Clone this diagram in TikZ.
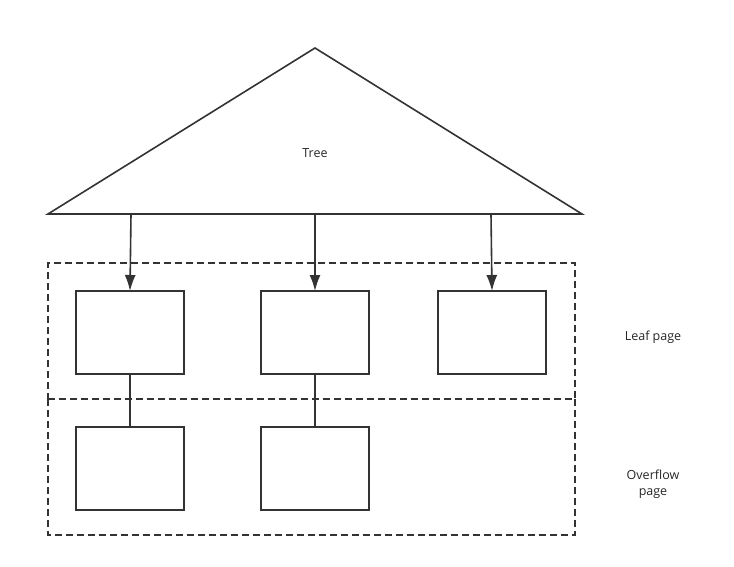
\documentclass[tikz,border=0pt]{standalone}
\usepackage{fontspec}
\setmainfont{Open Sans}
\usetikzlibrary{positioning}
\usetikzlibrary{arrows.meta}
\tikzset{>={Latex[width=11pt,length=16pt]}}

\begin{document}
\begin{tikzpicture}[x=1pt, y=-1pt, line width=1.6pt, page/.style={rectangle, draw=black!80, line width=1.6pt, minimum width=108pt, minimum height=83pt, outer sep=0pt}, region/.style={rectangle, draw=black!80, line width=1.6pt, dash pattern=on 7pt off 4pt, minimum width=527pt, minimum height=136pt, outer sep=0pt}, label/.style={draw=none, fill=none, text=black!85, font=\fontsize{12.5}{16}\selectfont, align=center}]

    \useasboundingbox (0,0) rectangle (734,567);

    %Tree
    \coordinate (apex) at (315,48);
    \coordinate (baseL) at (48,214);
    \coordinate (baseR) at (582,214);
    \draw[black!80, line join=miter] (apex) -- (baseR) -- (baseL) -- cycle;
    \node[label](tree) at (315,153){Tree};
    \coordinate (outA) at (131,214);
    \coordinate (outB) at (315,214);
    \coordinate (outC) at (491,214);

    %Nodes
    \node[region](leafzone) at (311.5,331){};
    \node[region, draw=none](overzone)[below=0pt of leafzone]{};
    \node[page](leafA) at (130,332.5){};
    \node[page](leafB)[right=77pt of leafA]{};
    \node[page](leafC)[right=69pt of leafB]{};
    \node[page](overA)[below=53pt of leafA]{};
    \node[page](overB)[below=53pt of leafB]{};
    \node[label](leaftext) at (653,337){Leaf page};
    \node[label](overtext) at (653,484){Overflow\\page};

    %Lines
    \draw[black!80, dash pattern=on 7pt off 4pt] (overzone.north west) -- (overzone.south west) -- (overzone.south east) -- (overzone.north east);
    \draw[->, black!80] (outA) -- (leafA.north);
    \draw[->, black!80] (outB) -- (leafB.north);
    \draw[->, black!80] (outC) -- (leafC.north);
    \draw[black!80] (leafA.south) -- (overA.north);
    \draw[black!80] (leafB.south) -- (overB.north);

\end{tikzpicture}
\end{document}
